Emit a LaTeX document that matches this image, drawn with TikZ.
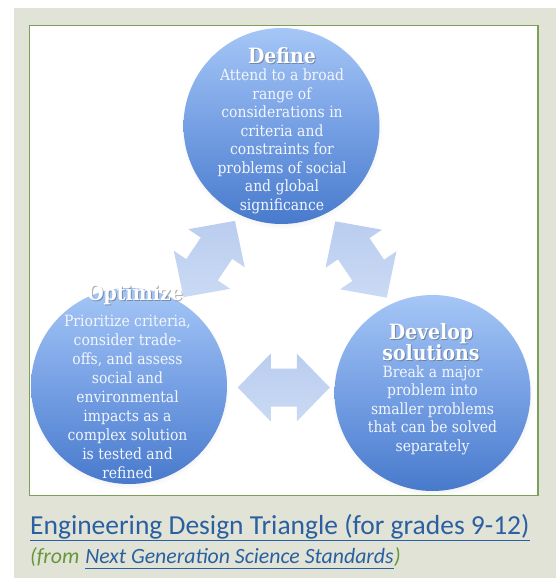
\documentclass[tikz,border=0pt]{standalone}
\usepackage{fontspec}
\setmainfont{DejaVu Serif Condensed}
\newfontfamily\capfont{Carlito}
\usetikzlibrary{calc,shadows}

\definecolor{pagegray}{RGB}{224,227,213}
\definecolor{framegreen}{RGB}{122,160,90}
\definecolor{circtop}{RGB}{165,198,246}
\definecolor{circmid}{RGB}{118,160,228}
\definecolor{circbot}{RGB}{72,122,204}
\definecolor{bodytext}{RGB}{242,246,253}
\definecolor{arrowA}{RGB}{186,205,239}
\definecolor{arrowB}{RGB}{202,218,244}
\definecolor{capblue}{RGB}{42,95,162}
\definecolor{capgreen}{RGB}{104,150,62}

\tikzset{
  phase/.style={circle, minimum size=196pt, inner sep=0pt,
    top color=circtop, bottom color=circbot, middle color=circmid,
    circular drop shadow={shadow xshift=0pt, shadow yshift=-2pt,
      opacity=0.22, shadow scale=1.03}},
  phasehead/.style={text=white, inner sep=0pt, align=center,
    font=\fontsize{21}{21}\selectfont\bfseries},
  headshadow/.style={phasehead, text=black!70, opacity=0.45},
  phasebody/.style={text=bodytext, inner sep=0pt, align=center,
    font=\fontsize{15.5}{18.5}\selectfont},
  blockarrow/.style={top color=arrowA, bottom color=arrowB, draw=none},
  captext/.style={inner sep=0pt, anchor=base west},
}

% double-headed block arrow centred at #1, axis turned by #2 degrees
\newcommand\dblblockarrow[2]{%
  \begin{scope}[shift={#1}, rotate=#2]
    \path[blockarrow] (-46,0) -- (-13,34) -- (-13,19) -- (13,19) -- (13,34)
      -- (46,0) -- (13,-34) -- (13,-19) -- (-13,-19) -- (-13,-34) -- cycle;
  \end{scope}}

\begin{document}
\begin{tikzpicture}[x=1pt, y=-1pt]
  \useasboundingbox (0,0) rectangle (556,578);
  \fill[white] (0,0) rectangle (556,578);
  \fill[pagegray] (14,8.5) rectangle (556,578);
  \draw[framegreen, line width=1.3pt, fill=white] (29.5,25.5) rectangle (538,495.5);

  % the three phases
  \node[phase] (def) at (281.5,126) {};
  \node[phase] (opt) at (129,386) {};
  \node[phase] (dev) at (432.5,393) {};

  % arrows between the phases
  \coordinate (defopt) at ($(def)!0.5!(opt)+(4,3)$);
  \coordinate (defdev) at ($(def)!0.5!(dev)+(4,0)$);
  \coordinate (optdev) at ($(opt)!0.5!(dev)+(3,-2)$);
  \dblblockarrow{(defopt)}{56}
  \dblblockarrow{(defdev)}{-56}
  \dblblockarrow{(optdev)}{0}

  % phase titles, each over a soft dark copy
  \node[headshadow] (defHs) at (283,56.5) {Define};
  \node[phasehead] (defH) at (282,55.5) {Define};
  \node[headshadow] (optHs) at (136,296) {Optimize};
  \node[phasehead] (optH) at (135,295) {Optimize};
  \node[headshadow] (devHs) at (432,343) {Develop\\solutions};
  \node[phasehead] (devH) at (431,342) {Develop\\solutions};

  % phase descriptions
  \node[phasebody] (defB) at (282,141.5) {Attend to a broad\\range of\\considerations in\\criteria and\\constraints for\\problems of social\\and global\\significance};
  \node[phasebody, font=\fontsize{15.5}{19}\selectfont] (optB) at (127.5,396.5) {Prioritize criteria,\\consider trade-\\offs, and assess\\social and\\environmental\\impacts as a\\complex solution\\is tested and\\refined};
  \node[phasebody] (devB) at (432.5,410) {Break a major\\problem into\\smaller problems\\that can be solved\\separately};

  % caption
  \node[captext, text=capblue, font=\capfont\fontsize{27.5}{30}\selectfont] (cap) at (30,534) {Engineering Design Triangle (for grades 9-12)};
  \draw[capblue, line width=1.2pt] ($(cap.base west)+(0,6.5)$) -- ($(cap.base east)+(0,6.5)$);

  \node[captext, text=capgreen, font=\capfont\itshape\fontsize{21.8}{24}\selectfont] (src1) at (30,563) {(from};
  \node[captext, text=capblue, font=\capfont\itshape\fontsize{21.8}{24}\selectfont] (src2) at ($(src1.base east)+(5.5,0)$) {Next Generation Science Standards};
  \node[captext, text=capgreen, font=\capfont\itshape\fontsize{21.8}{24}\selectfont] (src3) at (src2.base east) {)};
  \draw[capblue, line width=1pt] ($(src2.base west)+(0,5)$) -- ($(src2.base east)+(0,5)$);
\end{tikzpicture}
\end{document}
